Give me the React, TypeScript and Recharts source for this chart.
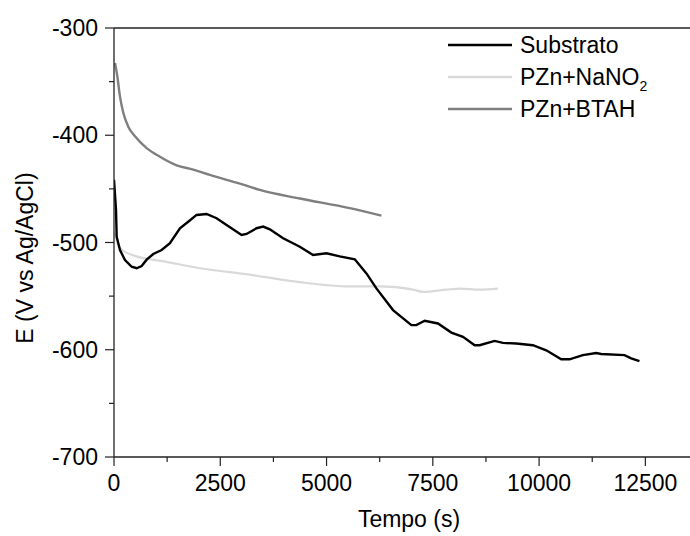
import React from 'react';
import { LineChart, Line, XAxis, YAxis, Legend, ReferenceLine } from 'recharts';

const FONT = '"Liberation Sans", Arial, sans-serif';

const substratoT = [0, 47, 63, 141, 258, 416, 533, 651, 768, 924, 1121, 1316, 1551, 1746, 1943, 2178, 2413, 2648, 3001, 3118, 3353, 3509, 3666, 3979, 4371, 4684, 4998, 5311, 5664, 5938, 6173, 6564, 6996, 7113, 7309, 7621, 7936, 8209, 8484, 8601, 8954, 9149, 9463, 9854, 10168, 10521, 10716, 11029, 11343, 11461, 12009, 12166, 12361];
const substratoE = [-441.6, -469.6, -494.6, -507, -516.4, -522.6, -524, -522, -516, -510.7, -507, -500.7, -486.7, -480.6, -474.3, -473.4, -477.4, -483.6, -493, -492, -486.7, -485.2, -487.7, -496, -504, -511.7, -510, -513, -515.7, -528.8, -542.8, -563, -577, -577, -573, -575.5, -584, -588, -595.8, -595.8, -591.8, -593.6, -594.2, -595.8, -600.5, -608.9, -608.9, -605, -603, -604, -605, -608, -610.7];

const nitritoT = [0, 141, 454, 1238, 2021, 3196, 4371, 5546, 6251, 7034, 7269, 7818, 8131, 8601, 9031];
const nitritoE = [-490, -505, -512, -518, -524, -530, -537, -541, -541, -544, -546, -544, -543, -544, -543];

const btahT = [24, 78, 141, 219, 336, 494, 768, 1081, 1473, 1864, 2256, 2648, 3039, 3431, 4371, 5546, 6291];
const btahE = [-332.5, -345, -364, -379, -392, -401, -412, -420, -428, -432, -437, -441.6, -446, -451, -459, -468, -475];

const xMajor = [0, 2500, 5000, 7500, 10000, 12500];
const xMinor = [1250, 3750, 6250, 8750, 11250];
const yMajor = [-700, -600, -500, -400, -300];
const yMinor = [-650, -550, -450, -350];

const build = (t: number[], e: number[]) => t.map((x, i) => ({ t: x, e: e[i] }));
const substratoData = build(substratoT, substratoE);
const nitritoData = build(nitritoT, nitritoE);
const btahData = build(btahT, btahE);

const AXIS = '#222';
const TICK = 9;
const MARGIN = 7;
const XMARGIN = 9;

const YTick = (props: any) => {
  const { x, y, payload } = props;
  const major = yMajor.includes(payload.value);
  const ax = x + TICK + MARGIN;
  return (
    <g>
      <line x1={ax - (major ? TICK : 5)} x2={ax} y1={y} y2={y} stroke={AXIS} strokeWidth={1.2} />
      {major && (
        <text x={x} y={y} dy="0.355em" textAnchor="end" fontSize={23} fontFamily={FONT} fill="#000">
          {payload.value}
        </text>
      )}
    </g>
  );
};

const XTick = (props: any) => {
  const { x, y, payload } = props;
  const major = xMajor.includes(payload.value);
  const ay = y - TICK - XMARGIN;
  return (
    <g>
      <line x1={x} x2={x} y1={ay} y2={ay + (major ? TICK : 5)} stroke={AXIS} strokeWidth={1.2} />
      {major && (
        <text x={x} y={y} dy="0.71em" textAnchor="middle" fontSize={23} fontFamily={FONT} fill="#000">
          {payload.value}
        </text>
      )}
    </g>
  );
};

const legendItems = [
  { key: 'sub', color: '#000000', label: <span>Substrato</span> },
  { key: 'nit', color: '#d9d9d9', label: <span>PZn+NaNO<sub style={{ fontSize: 14, verticalAlign: '-0.45em', lineHeight: 0 }}>2</sub></span> },
  { key: 'bta', color: '#7f7f7f', label: <span>PZn+BTAH</span> },
];

const renderLegend = () => (
  <div style={{ fontFamily: FONT, fontSize: 23, color: '#000' }}>
    {legendItems.map((it) => (
      <div key={it.key} style={{ display: 'flex', alignItems: 'center', height: 32, lineHeight: '32px' }}>
        <svg width={64} height={6} style={{ display: 'block' }}>
          <line x1={0} x2={64} y1={3} y2={3} stroke={it.color} strokeWidth={2.4} />
        </svg>
        <span style={{ marginLeft: 8 }}>{it.label}</span>
      </div>
    ))}
  </div>
);

export default function App() {
  return (
    <div style={{ position: 'absolute', left: 0, top: 0, width: 690, height: 536, background: '#fff' }}>
      <LineChart width={690} height={536} margin={{ top: 28, right: 0, bottom: 19, left: 54 }}>
        <XAxis
          type="number"
          dataKey="t"
          domain={[0, 13550]}
          ticks={[...xMajor, ...xMinor].sort((a, b) => a - b)}
          interval={0}
          tickSize={TICK}
          tickMargin={XMARGIN}
          tickLine={false}
          tick={<XTick />}
          height={60}
          axisLine={{ stroke: AXIS, strokeWidth: 1.3 }}
          allowDataOverflow
          label={{
            content: (p: any) => {
              const vb = p.viewBox;
              return (
                <text x={vb.x + vb.width / 2 + 7} y={527} textAnchor="middle" fontSize={23} fontFamily={FONT} fill="#000">
                  Tempo (s)
                </text>
              );
            },
          }}
        />
        <YAxis
          type="number"
          dataKey="e"
          domain={[-700, -300]}
          ticks={[...yMajor, ...yMinor].sort((a, b) => a - b)}
          interval={0}
          tickSize={TICK}
          tickMargin={MARGIN}
          tickLine={false}
          tick={<YTick />}
          width={60}
          axisLine={{ stroke: AXIS, strokeWidth: 1.3 }}
          allowDataOverflow
          label={{
            content: () => (
              <text x={33} y={258} transform="rotate(-90 33 258)" textAnchor="middle" fontSize={23} fontFamily={FONT} fill="#000">
                E (V vs Ag/AgCl)
              </text>
            ),
          }}
        />
        <ReferenceLine y={-300} stroke={AXIS} strokeWidth={1.3} />
        <Legend
          layout="horizontal"
          verticalAlign="middle"
          align="center"
          content={renderLegend}
          wrapperStyle={{ position: 'absolute', left: 448, top: 29, width: 'auto' }}
        />
        <Line data={nitritoData} dataKey="e" name="PZn+NaNO2" stroke="#d9d9d9" strokeWidth={2.2} dot={false} isAnimationActive={false} type="monotone" />
        <Line data={btahData} dataKey="e" name="PZn+BTAH" stroke="#7f7f7f" strokeWidth={2.4} dot={false} isAnimationActive={false} type="monotone" />
        <Line data={substratoData} dataKey="e" name="Substrato" stroke="#000000" strokeWidth={2.4} dot={false} isAnimationActive={false} type="linear" />
      </LineChart>
    </div>
  );
}
